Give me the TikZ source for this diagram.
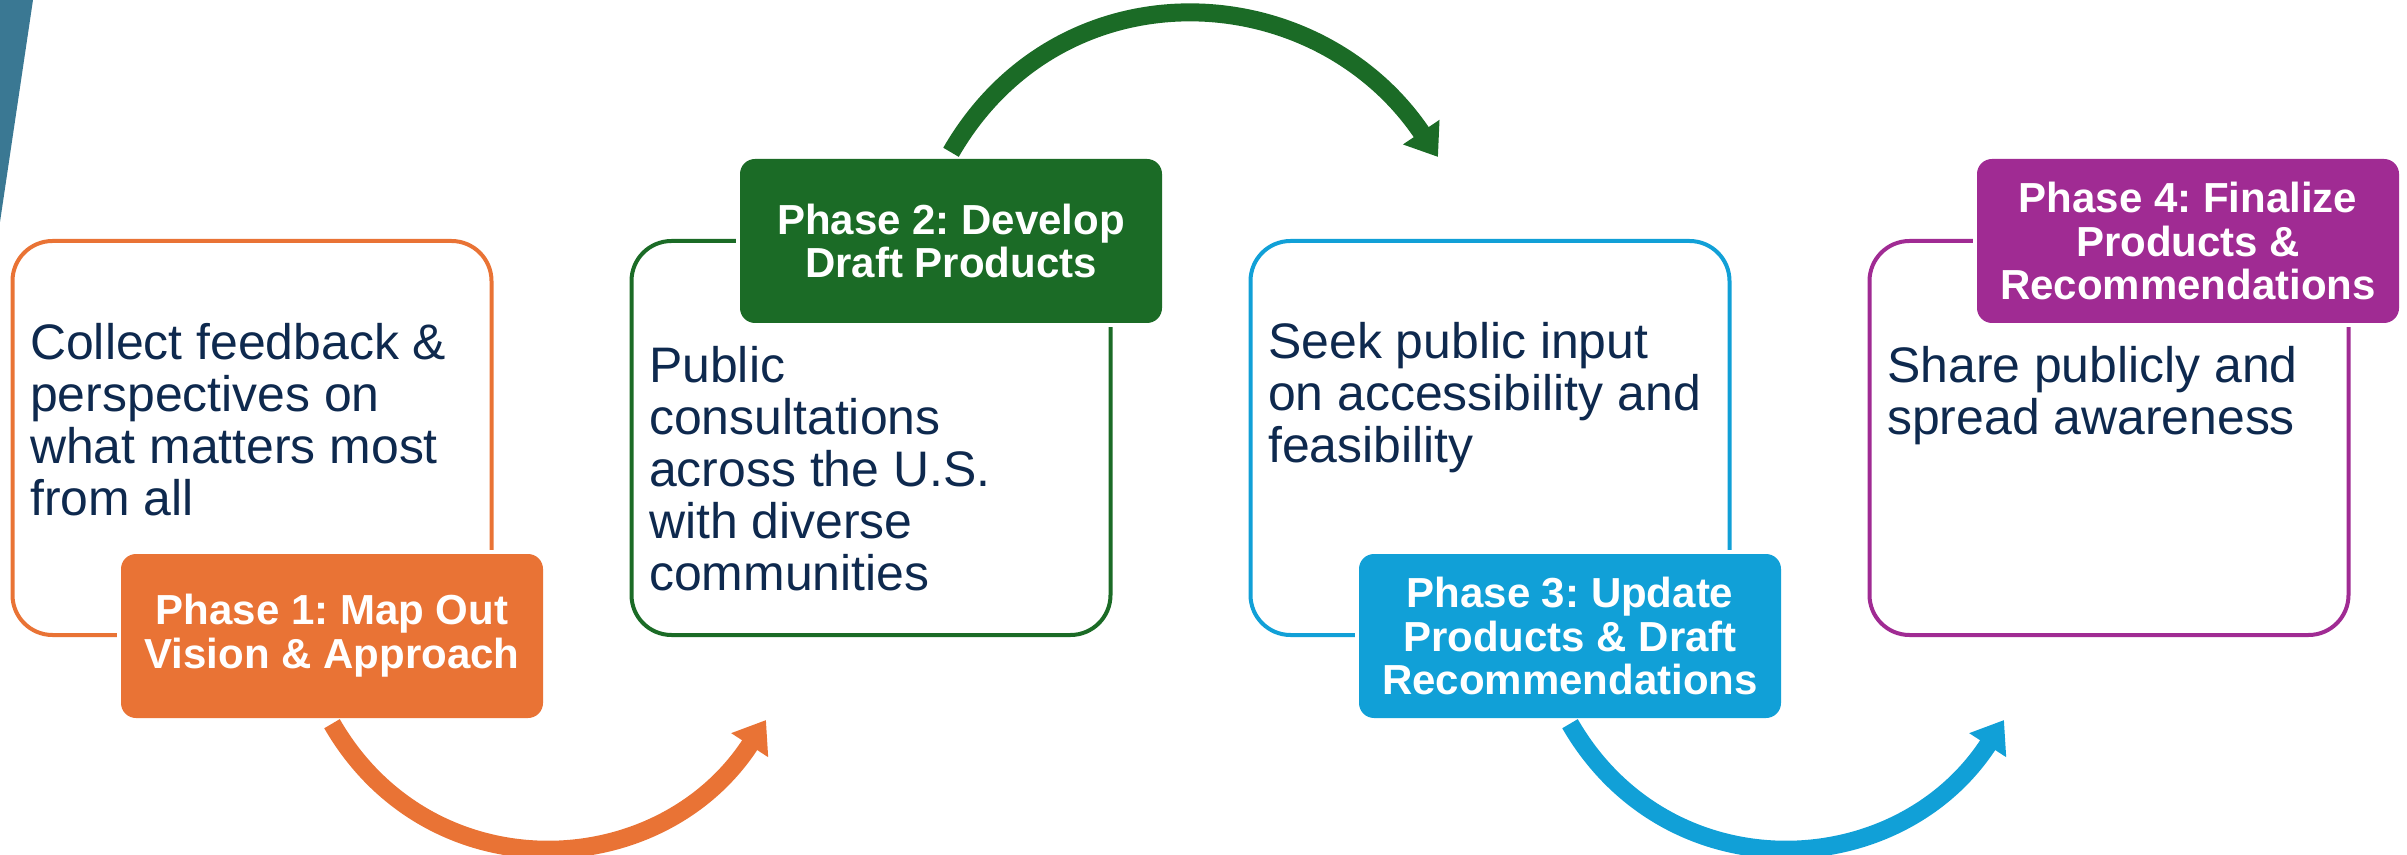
\documentclass[tikz,border=0pt]{standalone}
\usepackage{fontspec}
\setmainfont{Liberation Sans}
\usetikzlibrary{arrows.meta,positioning}
\frenchspacing

\definecolor{phaseorange}{RGB}{233,115,53}
\definecolor{phasegreen}{RGB}{27,107,38}
\definecolor{phaseblue}{RGB}{17,160,215}
\definecolor{phasepurple}{RGB}{160,43,147}
\definecolor{bodynavy}{RGB}{14,41,78}
\definecolor{cornerteal}{RGB}{58,120,147}

\begin{document}
\begin{tikzpicture}[
    outline/.style={draw, line width=0.04cm, rounded corners=0.4cm, minimum width=4.79cm, minimum height=3.94cm, inner sep=0pt},
    phase/.style={rounded corners=0.15cm, text=white, align=center, inner sep=0pt, minimum width=4.22cm, minimum height=1.64cm, font=\fontsize{11.95pt}{12.5pt}\selectfont\bfseries, preaction={draw=white, line width=0.08cm}},
    body/.style={anchor=north west, align=left, inner sep=0pt, text=bodynavy, font=\fontsize{14.2pt}{14.8pt}\selectfont},
    flow/.style={line width=0.18cm, -{Triangle[width=0.42cm,length=0.30cm]}}
]
    \useasboundingbox (0,0) rectangle (24.07,8.54);
    \fill[cornerteal] (0,8.54) -- (0.33,8.54) -- (0,6.32) -- cycle;

    % phase 1
    \node[outline, draw=phaseorange] (box1) at (2.52, 4.16) {};
    \node[phase, fill=phaseorange] (ph1) at (3.32, 2.18) {Phase 1: Map Out\\Vision \& Approach};
    \node[body] (txt1) at ([xshift=0.19cm, yshift=-0.84cm]box1.north west) {Collect feedback \&\\perspectives on\\what matters most\\from all};

    % phase 2
    \node[outline, draw=phasegreen] (box2) at (8.71, 4.16) {};
    \node[phase, fill=phasegreen] (ph2) at (9.51, 6.13) {Phase 2: Develop\\Draft Products};
    \node[body] (txt2) at ([xshift=0.19cm, yshift=-1.07cm]box2.north west) {Public\\consultations\\across the U.S.\\with diverse\\communities};

    % phase 3
    \node[outline, draw=phaseblue] (box3) at (14.90, 4.16) {};
    \node[phase, fill=phaseblue] (ph3) at (15.70, 2.18) {Phase 3: Update\\Products \& Draft\\Recommendations};
    \node[body] (txt3) at ([xshift=0.19cm, yshift=-0.83cm]box3.north west) {Seek public input\\on accessibility and\\feasibility};

    % phase 4
    \node[outline, draw=phasepurple] (box4) at (21.09, 4.16) {};
    \node[phase, fill=phasepurple] (ph4) at (21.88, 6.13) {Phase 4: Finalize\\Products \&\\Recommendations};
    \node[body] (txt4) at ([xshift=0.19cm, yshift=-1.07cm]box4.north west) {Share publicly and\\spread awareness};

    % curved arrows between phases
    \coordinate (tip1) at (7.66, 1.34);
    \coordinate (tip2) at (14.38, 6.97);
    \coordinate (tip3) at (20.04, 1.34);
    \draw[flow, phaseorange] ([yshift=-0.05cm]ph1.south) to[out=-60, in=-123, looseness=1.15] (tip1);
    \draw[flow, phasegreen] ([yshift=0.06cm]ph2.north) to[out=60, in=124, looseness=1.15] (tip2);
    \draw[flow, phaseblue] ([yshift=-0.05cm]ph3.south) to[out=-60, in=-123, looseness=1.15] (tip3);
\end{tikzpicture}
\end{document}
